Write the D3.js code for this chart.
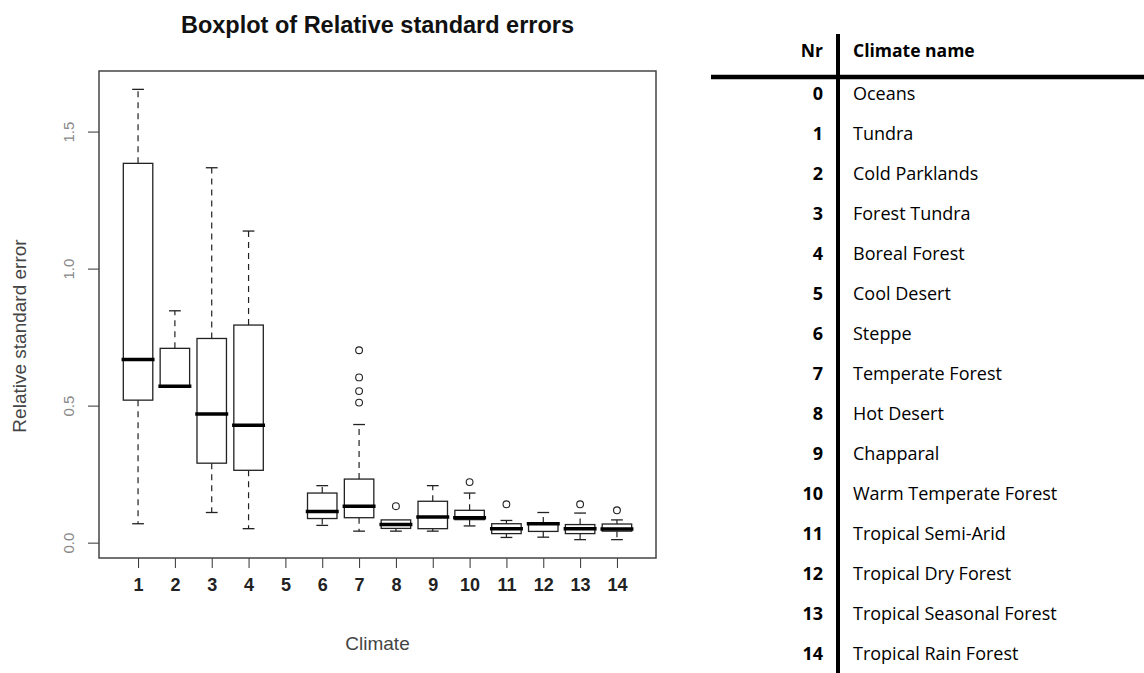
<!DOCTYPE html>
<html>
<head>
<meta charset="utf-8">
<script src="https://cdn.jsdelivr.net/npm/d3@7"></script>
<style>
  body { margin: 0; background: #fff; }
  svg { display: block; }
</style>
</head>
<body>
<svg id="chart" width="1144" height="673"></svg>
<script>
// climate numbers on the x axis (5 = Cool Desert has no data)
var climates = [1, 2, 3, 4, 5, 6, 7, 8, 9, 10, 11, 12, 13, 14];

// boxplot statistics
var whiskerLow  = [0.069, 0.571, 0.110, 0.051, null, 0.063, 0.042, 0.042, 0.042, 0.061, 0.019, 0.020, 0.011, 0.011];
var quart1      = [0.520, 0.571, 0.290, 0.264, null, 0.088, 0.091, 0.052, 0.051, 0.084, 0.033, 0.041, 0.033, 0.042];
var medians     = [0.668, 0.571, 0.469, 0.428, null, 0.114, 0.133, 0.066, 0.094, 0.091, 0.051, 0.069, 0.051, 0.050];
var quart3      = [1.384, 0.709, 0.745, 0.794, null, 0.181, 0.232, 0.083, 0.151, 0.118, 0.069, 0.072, 0.066, 0.068];
var whiskerHigh = [1.654, 0.846, 1.368, 1.137, null, 0.208, 0.431, 0.083, 0.208, 0.181, 0.081, 0.110, 0.108, 0.083];
var outliers    = [[], [], [], [], [], [], [0.511, 0.553, 0.603, 0.702], [0.133], [], [0.221], [0.140], [], [0.140], [0.118]];

var yTicks = [0, 0.5, 1.0, 1.5];

// table on the right
var tableNr    = [0, 1, 2, 3, 4, 5, 6, 7, 8, 9, 10, 11, 12, 13, 14];
var tableNames = ["Oceans", "Tundra", "Cold Parklands", "Forest Tundra", "Boreal Forest", "Cool Desert",
                  "Steppe", "Temperate Forest", "Hot Desert", "Chapparal", "Warm Temperate Forest",
                  "Tropical Semi-Arid", "Tropical Dry Forest", "Tropical Seasonal Forest", "Tropical Rain Forest"];

var drawBoxplot = function(){
    var svg = d3.select("#chart");
    var plot = {left: 99, right: 656, top: 71, bottom: 558};
    var rFont = "'Liberation Sans', Arial, sans-serif";

    // R style: 4% extension of the data range
    var xs = d3.scaleLinear()
        .domain([0.5 - 14 * 0.04, 14.5 + 14 * 0.04])
        .range([plot.left, plot.right]);
    var ys = d3.scaleLinear()
        .domain([-0.056, 1.721])
        .range([plot.bottom, plot.top]);
    var boxW = (xs(1) - xs(0)) * 0.8;
    var capW = boxW * 0.4;

    // title
    svg.append("text")
        .attr("x", (plot.left + plot.right) / 2)
        .attr("y", 33)
        .attr("text-anchor", "middle")
        .style("font-family", rFont)
        .style("font-weight", "bold")
        .style("font-size", "23.5px")
        .style("fill", "#111")
        .text("Boxplot of Relative standard errors");

    // axes
    var yAxis = d3.axisLeft(ys)
        .tickValues(yTicks)
        .tickSize(11)
        .tickPadding(20)
        .tickFormat(d3.format(".1f"));
    var gy = svg.append("g")
        .attr("transform", "translate(" + plot.left + ",0)")
        .call(yAxis);
    gy.select(".domain").remove();
    gy.selectAll("line").attr("stroke", "#333");
    gy.selectAll("text")
        .attr("x", null).attr("dy", null)
        .attr("transform", "translate(-31,0) rotate(-90)")
        .attr("text-anchor", "middle")
        .attr("dominant-baseline", "central")
        .style("font-family", rFont)
        .style("font-size", "15px")
        .style("fill", "#888");

    var xAxis = d3.axisBottom(xs)
        .tickValues(climates)
        .tickSize(10)
        .tickPadding(10)
        .tickFormat(d3.format("d"));
    var gx = svg.append("g")
        .attr("transform", "translate(0," + plot.bottom + ")")
        .call(xAxis);
    gx.select(".domain").remove();
    gx.selectAll("line").attr("stroke", "#333");
    gx.selectAll("text")
        .style("font-family", rFont)
        .style("font-weight", "bold")
        .style("font-size", "18px")
        .style("fill", "#222");

    // axis titles
    svg.append("text")
        .attr("transform", "translate(26," + 336 + ") rotate(-90)")
        .attr("text-anchor", "middle")
        .style("font-family", rFont)
        .style("font-size", "19px")
        .style("fill", "#444")
        .text("Relative standard error");
    svg.append("text")
        .attr("x", (plot.left + plot.right) / 2)
        .attr("y", 650)
        .attr("text-anchor", "middle")
        .style("font-family", rFont)
        .style("font-size", "19px")
        .style("fill", "#444")
        .text("Climate");

    // boxes
    var boxes = climates.map(function(c, i){
        return {c: c, lo: whiskerLow[i], q1: quart1[i], med: medians[i], q3: quart3[i], hi: whiskerHigh[i], out: outliers[i]};
    }).filter(function(d){ return d.med !== null; });

    var g = svg.append("g").attr("class", "boxes");
    var b = g.selectAll(".box").data(boxes).enter().append("g").attr("class", "box");

    // dashed whiskers
    b.append("line")
        .attr("x1", function(d){ return xs(d.c); }).attr("x2", function(d){ return xs(d.c); })
        .attr("y1", function(d){ return ys(d.q3); }).attr("y2", function(d){ return ys(d.hi); })
        .attr("stroke", "#222").attr("stroke-width", 1.2).attr("stroke-dasharray", "6,5");
    b.append("line")
        .attr("x1", function(d){ return xs(d.c); }).attr("x2", function(d){ return xs(d.c); })
        .attr("y1", function(d){ return ys(d.q1); }).attr("y2", function(d){ return ys(d.lo); })
        .attr("stroke", "#222").attr("stroke-width", 1.2).attr("stroke-dasharray", "6,5");
    // staples
    b.filter(function(d){ return d.hi > d.q3; }).append("line")
        .attr("x1", function(d){ return xs(d.c) - capW / 2; }).attr("x2", function(d){ return xs(d.c) + capW / 2; })
        .attr("y1", function(d){ return ys(d.hi); }).attr("y2", function(d){ return ys(d.hi); })
        .attr("stroke", "#222").attr("stroke-width", 1.3);
    b.filter(function(d){ return d.lo < d.q1; }).append("line")
        .attr("x1", function(d){ return xs(d.c) - capW / 2; }).attr("x2", function(d){ return xs(d.c) + capW / 2; })
        .attr("y1", function(d){ return ys(d.lo); }).attr("y2", function(d){ return ys(d.lo); })
        .attr("stroke", "#222").attr("stroke-width", 1.3);
    // box
    b.append("rect")
        .attr("x", function(d){ return xs(d.c) - boxW / 2; })
        .attr("y", function(d){ return ys(d.q3); })
        .attr("width", boxW)
        .attr("height", function(d){ return Math.max(0, ys(d.q1) - ys(d.q3)); })
        .attr("fill", "#fff").attr("stroke", "#222").attr("stroke-width", 1.3);
    // median
    b.append("line")
        .attr("x1", function(d){ return xs(d.c) - boxW / 2; }).attr("x2", function(d){ return xs(d.c) + boxW / 2; })
        .attr("y1", function(d){ return ys(d.med); }).attr("y2", function(d){ return ys(d.med); })
        .attr("stroke", "#000").attr("stroke-width", 3.5).attr("stroke-linecap", "square");
    // outliers
    b.selectAll("circle").data(function(d){ return d.out.map(function(v){ return {c: d.c, v: v}; }); })
        .enter().append("circle")
        .attr("cx", function(d){ return xs(d.c); })
        .attr("cy", function(d){ return ys(d.v); })
        .attr("r", 3.4)
        .attr("fill", "none").attr("stroke", "#222").attr("stroke-width", 1.1);

    // plot frame
    svg.append("rect")
        .attr("x", plot.left).attr("y", plot.top)
        .attr("width", plot.right - plot.left).attr("height", plot.bottom - plot.top)
        .attr("fill", "none").attr("stroke", "#444").attr("stroke-width", 1.5);
};

var drawTable = function(){
    var svg = d3.select("#chart");
    var tFont = "'Open Sans', 'Noto Sans', sans-serif";
    var nrX = 823, nameX = 853, lineX = 838;
    var row = d3.scaleLinear().domain([0, 14]).range([93, 653]);

    svg.append("text").attr("x", nrX).attr("y", 50)
        .attr("text-anchor", "end").attr("dominant-baseline", "central")
        .style("font-family", tFont).style("font-weight", "bold").style("font-size", "17.5px")
        .text("Nr");
    svg.append("text").attr("x", nameX).attr("y", 50)
        .attr("dominant-baseline", "central")
        .style("font-family", tFont).style("font-weight", "bold").style("font-size", "17.5px")
        .text("Climate name");

    svg.selectAll(".nr").data(tableNr).enter().append("text")
        .attr("class", "nr")
        .attr("x", nrX).attr("y", function(d){ return row(d); })
        .attr("text-anchor", "end").attr("dominant-baseline", "central")
        .style("font-family", tFont).style("font-weight", "bold").style("font-size", "18px")
        .text(function(d){ return d; });
    svg.selectAll(".cname").data(tableNames).enter().append("text")
        .attr("class", "cname")
        .attr("x", nameX).attr("y", function(d, i){ return row(tableNr[i]); })
        .attr("dominant-baseline", "central")
        .style("font-family", tFont).style("font-size", "18px")
        .text(function(d){ return d; });

    // thick rules
    svg.append("line").attr("x1", 711).attr("x2", 1144).attr("y1", 77).attr("y2", 77)
        .attr("stroke", "#000").attr("stroke-width", 4.5);
    svg.append("line").attr("x1", lineX).attr("x2", lineX).attr("y1", 34).attr("y2", 673)
        .attr("stroke", "#000").attr("stroke-width", 4);
};

var main = function(){
    drawBoxplot();
    drawTable();
}();
</script>
</body>
</html>
